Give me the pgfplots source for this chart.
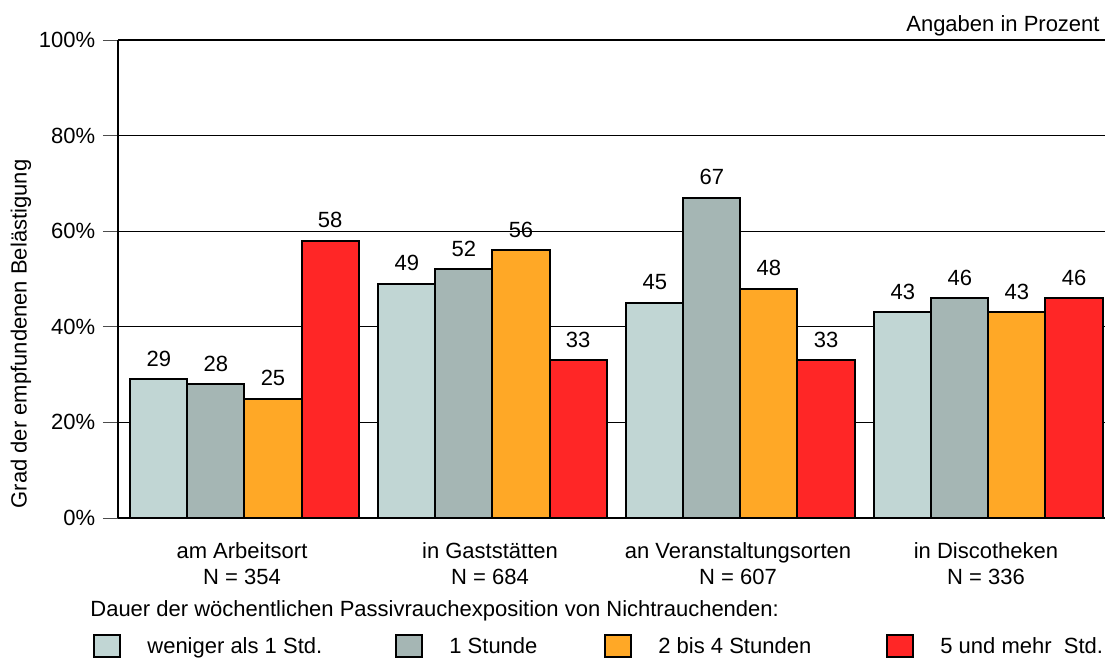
\documentclass[border=0pt]{standalone}
\usepackage{fontspec}
\setmainfont{Liberation Sans}
\usepackage{pgfplots}
\pgfplotsset{compat=1.18}
\definecolor{cA}{RGB}{193,214,212}
\definecolor{cB}{RGB}{165,182,180}
\definecolor{cC}{RGB}{255,168,38}
\definecolor{cD}{RGB}{255,38,38}
\newcommand{\ff}{\fontsize{11pt}{13pt}\selectfont}
\begin{document}
\ff
\begin{tikzpicture}
\useasboundingbox (0,0) rectangle (554pt,330pt);
\begin{axis}[
  at={(59pt,71pt)}, anchor=south west,
  width=493.5pt, height=239pt, scale only axis,
  xmin=-0.5, xmax=3.48, ymin=0, ymax=100,
  /pgf/number format/assume math mode=true,
  axis y line*=left,
  axis line style={-, line width=1.3pt},
  ybar, bar width=0.23,
  legend image code/.code={\draw[#1] (0pt,-5.5pt) rectangle (13pt,5.5pt);},
  ytick={0,20,40,60,80,100},
  yticklabels={0\%,20\%,40\%,60\%,80\%,100\%},
  ytick align=outside, major tick length=7.5pt,
  ytick style={line width=0.5pt, black!70},
  ymajorgrids, major grid style={line width=0.5pt, black},
  xtick={0,1,2,3},
  xtick pos=bottom,
  xtick align=inside,
  xtick style={draw=none},
  xticklabels={{am Arbeitsort\\N = 354},{in Gaststätten\\N = 684},{an Veranstaltungsorten\\N = 607},{in Discotheken\\N = 336}},
  xticklabel style={align=center, anchor=north, inner sep=0pt, yshift=-12pt, font=\ff},
  yticklabel style={font=\ff},
  extra x ticks={-0.5,0.5,1.5,2.5},
  extra x tick labels={},
  extra x tick style={xtick align=outside, major tick length=7.5pt, tick style={draw=black!70, line width=0.5pt}, grid=none},
  ylabel={Grad der empfundenen Belästigung},
  ylabel style={at={(axis description cs:-0.0983,0.385)}, anchor=center, font=\ff},
  nodes near coords,
  every node near coord/.append style={font=\ff, anchor=base, yshift=6.5pt, black},
  legend columns=4,
  legend style={at={(-0.02533,-0.268)}, anchor=west, draw=none, fill=none, inner sep=0pt, column sep=0pt, row sep=0pt, nodes={inner sep=0pt, font=\ff}},
  legend cell align=left,
]
\addplot[fill=cA, draw=black, line width=1pt, bar shift=-0.335] coordinates {(0,29) (1,49) (2,45) (3,43)};
\addlegendentry{\hspace*{13pt}\makebox[124pt][l]{weniger als 1 Std.\strut}}
\addplot[fill=cB, draw=black, line width=1pt, bar shift=-0.105] coordinates {(0,28) (1,52) (2,67) (3,46)};
\addlegendentry{\hspace*{13pt}\makebox[77.5pt][l]{1 Stunde\strut}}
\addplot[fill=cC, draw=black, line width=1pt, bar shift=0.125] coordinates {(0,25) (1,56) (2,48) (3,43)};
\addlegendentry{\hspace*{13pt}\makebox[114pt][l]{2 bis 4 Stunden\strut}}
\addplot[fill=cD, draw=black, line width=1pt, bar shift=0.355] coordinates {(0,58) (1,33) (2,33) (3,46)};
\addlegendentry{\hspace*{13pt}5 und mehr\ \ Std.\strut}
\end{axis}
\node[anchor=base west, inner sep=0pt, font=\ff] at (45pt,22pt) {Dauer der wöchentlichen Passivrauchexposition von Nichtrauchenden:};
\node[anchor=base east, inner sep=0pt, font=\ff] at (550pt,314pt) {Angaben in Prozent};
\end{tikzpicture}
\end{document}
